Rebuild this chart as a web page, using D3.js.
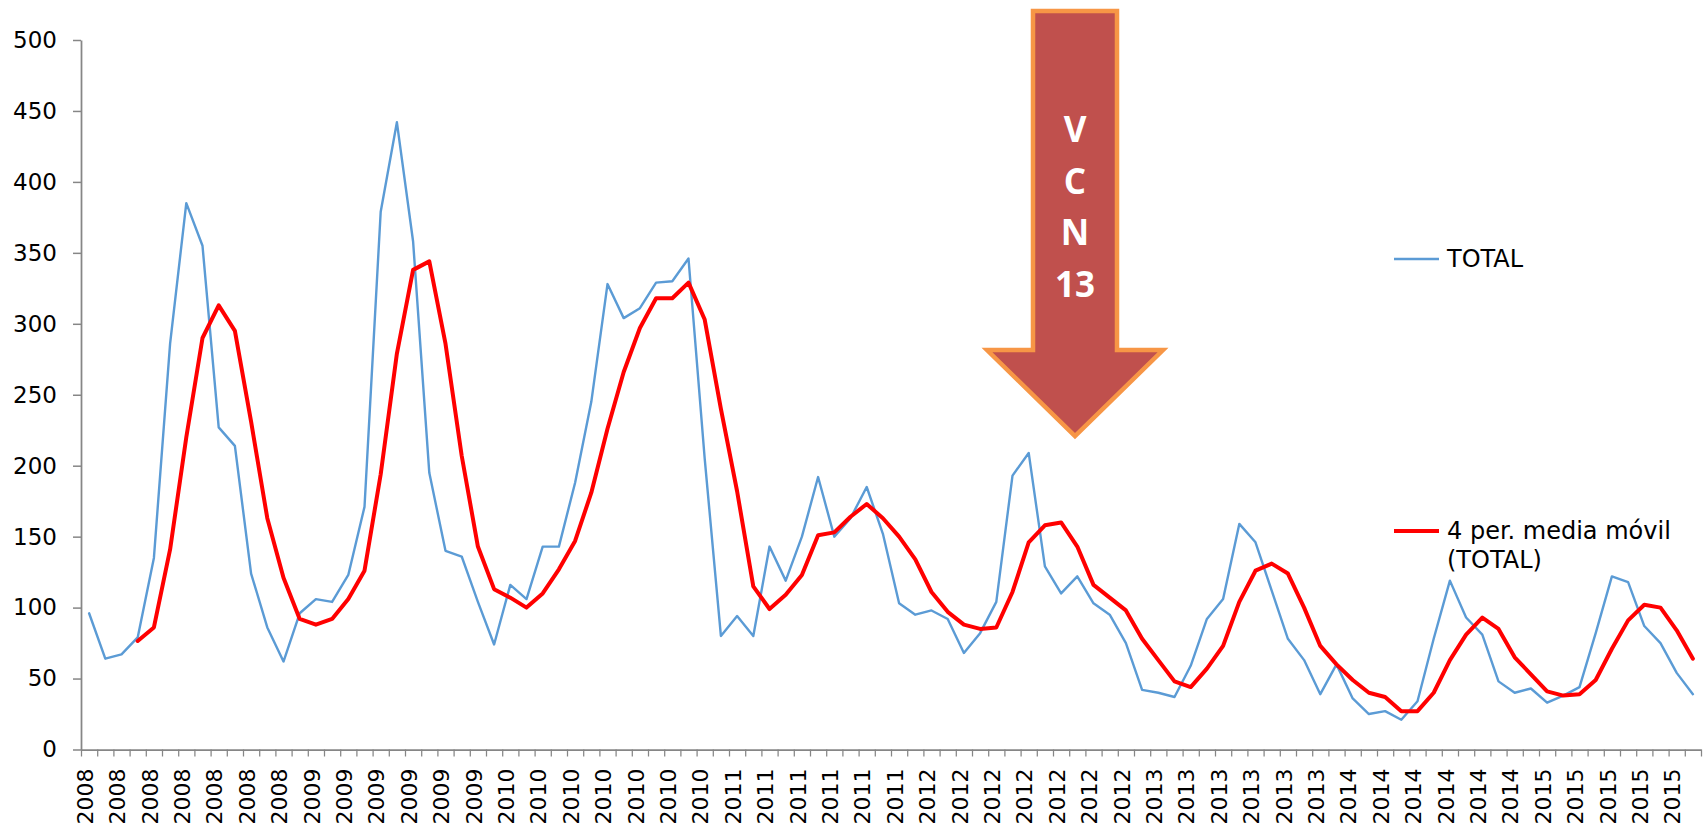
<!DOCTYPE html>
<html>
<head>
<meta charset="utf-8">
<script src="https://cdn.jsdelivr.net/npm/d3@7"></script>
<style>
  html, body { margin: 0; padding: 0; background: #ffffff; }
  svg { display: block; }
  .axis path, .axis line { stroke: #868686; }
  .axis text { fill: #000000; font-family: "DejaVu Sans", sans-serif; }
</style>
</head>
<body>
<svg id="chart" width="1706" height="826"></svg>
<script>
// Cases per 4-week period, 2008–2015
const years = [2008, 2009, 2010, 2011, 2012, 2013, 2014, 2015];
const periodsPerYear = [13, 13, 13, 13, 13, 13, 12, 10];

const total = [
  96, 64, 67, 79, 135, 286, 385, 355, 227, 214, 124, 86, 62,
  96, 106, 104, 123, 171, 379, 442, 358, 195, 140, 136, 104, 74,
  116, 106, 143, 143, 188, 245, 328, 304, 311, 329, 330, 346, 205,
  80, 94, 80, 143, 119, 150, 192, 150, 163, 185, 152, 103, 95, 98,
  92, 68, 82, 104, 193, 209, 129, 110, 122, 103, 95, 75, 42,
  40, 37, 59, 92, 106, 159, 146, 112, 78, 63, 39, 60, 36,
  25, 27, 21, 34, 78, 119, 93, 81, 48, 40, 43, 33,
  38, 44, 82, 122, 118, 87, 75, 54, 39
];

// 4-period moving average of TOTAL (first three periods have no value)
const movingAvg = [
  null, null, null, 76.5, 86, 141, 220, 290, 313, 295, 231, 163, 121,
  92, 88, 92, 106, 126, 194, 279, 338, 344, 286, 207, 143, 113,
  107, 100, 110, 127, 147, 181, 226, 266, 297, 318, 318, 329, 303,
  240, 182, 115, 99, 109, 123, 151, 153, 164, 173, 163, 150, 134, 111,
  97, 88, 85, 86, 111, 146, 158, 160, 143, 116, 107, 98, 78,
  63, 48, 44, 57, 73, 104, 126, 131, 124, 100, 73, 60, 49,
  40, 37, 27, 27, 40, 63, 81, 93, 85, 65, 53, 41,
  38, 39, 49, 71, 91, 102, 100, 84, 64
];

const yTicks = [0, 50, 100, 150, 200, 250, 300, 350, 400, 450, 500];
const seriesNames = ["TOTAL", "4 per. media móvil", "(TOTAL)"];
const arrowText = ["V", "C", "N", "13"];

// category labels: one year label per period
const categories = [];
years.forEach((yr, k) => { for (let p = 0; p < periodsPerYear[k]; p++) categories.push(String(yr)); });

const svg = d3.select("#chart");
const plotLeft = 81, plotRight = 1701, plotTop = 40, plotBottom = 749.5;

const xEdge = d3.scaleLinear().domain([0, categories.length]).range([plotLeft, plotRight]);
const x = d3.scaleBand().domain(d3.range(categories.length)).range([plotLeft, plotRight]).padding(0);
const y = d3.scaleLinear().domain([0, 500]).range([plotBottom, plotTop]);

// y axis
const yAxis = svg.append("g").attr("class", "axis")
  .attr("transform", `translate(${plotLeft},0)`)
  .call(d3.axisLeft(y).tickValues(yTicks).tickSize(8).tickSizeOuter(0).tickPadding(16).tickFormat(d3.format("d")));
yAxis.select(".domain").attr("stroke-width", 1.75);
yAxis.selectAll(".tick line").attr("stroke-width", 1.5);
yAxis.selectAll("text").style("font-size", "23px");

// x axis: tick marks between categories
const xAxis = svg.append("g").attr("class", "axis")
  .attr("transform", `translate(0,${plotBottom})`)
  .call(d3.axisBottom(xEdge).tickValues(d3.range(categories.length + 1)).tickSize(7).tickSizeOuter(0).tickFormat(""));
xAxis.select(".domain").attr("stroke-width", 1.75);
xAxis.selectAll(".tick line").attr("stroke-width", 1.25);

// x labels: every second category, rotated
const labelAxis = svg.append("g").attr("class", "axis")
  .attr("transform", `translate(0,${plotBottom})`)
  .call(d3.axisBottom(x).tickSize(0).tickFormat(i => (i % 2 === 0 ? categories[i] : "")));
labelAxis.select(".domain").remove();
labelAxis.selectAll("text")
  .style("font-size", "22px")
  .attr("text-anchor", "end")
  .attr("transform", "rotate(-90)")
  .attr("x", -19)
  .attr("y", -4)
  .attr("dy", "0.35em");

const cx = i => x(i) + x.bandwidth() / 2;

// TOTAL series
const lineTotal = d3.line().x((d, i) => cx(i)).y(d => y(d));
svg.append("path")
  .datum(total)
  .attr("d", lineTotal)
  .attr("fill", "none")
  .attr("stroke", "#5B9BD5")
  .attr("stroke-width", 2.4)
  .attr("stroke-linejoin", "round")
  .attr("stroke-linecap", "round");

// moving average series
const lineAvg = d3.line().defined(d => d !== null).x((d, i) => cx(i)).y(d => y(d));
svg.append("path")
  .datum(movingAvg)
  .attr("d", lineAvg)
  .attr("fill", "none")
  .attr("stroke", "#FF0000")
  .attr("stroke-width", 4)
  .attr("stroke-linejoin", "round")
  .attr("stroke-linecap", "round");

// annotation arrow
const arrow = [[1033, 11], [1117, 11], [1117, 350], [1163, 350], [1075, 436], [987, 350], [1033, 350]];
svg.append("polygon")
  .attr("points", arrow.map(p => p.join(",")).join(" "))
  .attr("fill", "#C0504D")
  .attr("stroke", "#F79646")
  .attr("stroke-width", 4.5)
  .attr("stroke-linejoin", "miter");

const arrowY = [128, 180, 231, 283];
arrowText.forEach((t, k) => {
  svg.append("text")
    .attr("x", 1075).attr("y", arrowY[k])
    .attr("text-anchor", "middle")
    .attr("dominant-baseline", "central")
    .style("font-family", "'Liberation Sans Narrow', 'Open Sans', sans-serif")
    .style("font-weight", "bold")
    .style("font-size", "35px")
    .attr("fill", "#ffffff")
    .text(t);
});

// legend
const legend = svg.append("g").style("font-family", "'DejaVu Sans', sans-serif").style("font-size", "24px");
legend.append("line").attr("x1", 1394).attr("x2", 1439).attr("y1", 259).attr("y2", 259)
  .attr("stroke", "#5B9BD5").attr("stroke-width", 2.4);
legend.append("text").attr("x", 1447).attr("y", 259).attr("dominant-baseline", "central")
  .attr("fill", "#000").text(seriesNames[0]);
legend.append("line").attr("x1", 1394).attr("x2", 1439).attr("y1", 531).attr("y2", 531)
  .attr("stroke", "#FF0000").attr("stroke-width", 4);
legend.append("text").attr("x", 1447).attr("y", 531).attr("dominant-baseline", "central")
  .attr("fill", "#000").text(seriesNames[1]);
legend.append("text").attr("x", 1447).attr("y", 560).attr("dominant-baseline", "central")
  .attr("fill", "#000").text(seriesNames[2]);
</script>
</body>
</html>
